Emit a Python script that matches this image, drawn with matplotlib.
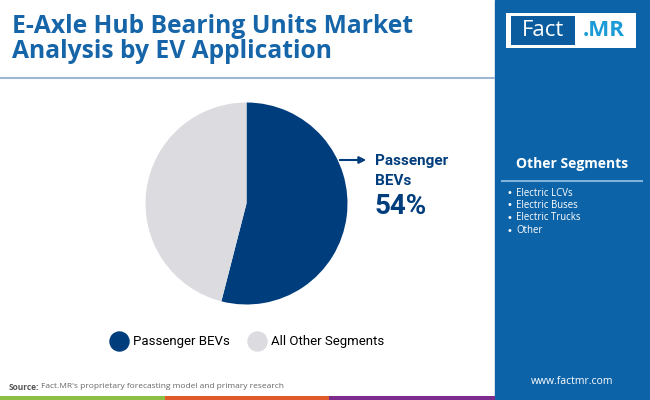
import matplotlib.pyplot as plt
from matplotlib.patches import Rectangle
from matplotlib.lines import Line2D

segments = ["Passenger BEVs", "All Other Segments"]
shares = [54, 46]
seg_colors = ["#003d7c", "#dcdbe0"]
other_items = ["Electric LCVs", "Electric Buses", "Electric Trucks", "Other"]

title_col = "#1565a8"
panel_col = "#0d63a8"

fig = plt.figure(figsize=(6.5, 4), dpi=100)

# background layer in pixel coordinates
bg = fig.add_axes([0, 0, 1, 1])
bg.set_xlim(0, 650)
bg.set_ylim(400, 0)
bg.axis("off")

bg.text(12, 33, "E-Axle Hub Bearing Units Market", fontsize=17.7, fontweight="bold",
        family="Open Sans", color=title_col, va="baseline")
bg.text(12, 58, "Analysis by EV Application", fontsize=17.7, fontweight="bold",
        family="Open Sans", color=title_col, va="baseline")
bg.plot([0, 494], [78, 78], color="#9db8d0", lw=1.5)

# right panel
bg.add_patch(Rectangle((495, 0), 155, 400, color=panel_col, zorder=1))
bg.add_patch(Rectangle((506, 13), 130, 35, facecolor="white", edgecolor="none", zorder=2))
bg.add_patch(Rectangle((511, 16), 64, 29, facecolor="#0a5c9e", edgecolor="none", zorder=3))
bg.text(543, 31, "Fact", fontsize=16, color="white", ha="center", va="center",
        family="Open Sans", zorder=4)
bg.text(604, 31, ".MR", fontsize=16, color="#1a9bd7", ha="center", va="center",
        fontweight="bold", family="Open Sans", zorder=4)

bg.text(572, 164, "Other Segments", fontsize=10, fontweight="bold", color="white",
        ha="center", va="center", family="Open Sans", zorder=4)
bg.plot([502, 642], [181, 181], color="#7fb2dc", lw=1.5, zorder=4)
for i, item in enumerate(other_items):
    y = 193 + i * 12.5
    bg.text(507, y, "\u2022", fontsize=7, color="white", ha="left", va="center", zorder=4)
    bg.text(516, y, item, fontsize=6.9, color="white", ha="left", va="center",
            family="Open Sans", zorder=4)
bg.text(572, 382, "www.factmr.com", fontsize=7.5, color="white", ha="center",
        va="center", family="Open Sans", zorder=4)

# source
bg.text(9, 387, "Source:", fontsize=6, fontweight="bold", color="#555555",
        va="center", family="Open Sans")
bg.text(41, 387, "Fact.MR's proprietary forecasting model and primary research",
        fontsize=6, color="#666666", va="center", family="Open Sans")

# bottom strip
bg.add_patch(Rectangle((0, 396), 165, 4, color="#8cbf45", lw=0))
bg.add_patch(Rectangle((165, 396), 164, 4, color="#e05a2b", lw=0))
bg.add_patch(Rectangle((329, 396), 166, 4, color="#7b2c8c", lw=0))

# pie
cx, cy, r = 246.5, 203.5, 101
ax = fig.add_axes([(cx - r) / 650, 1 - (cy + r) / 400, 2 * r / 650, 2 * r / 400])
ax.pie(shares, colors=seg_colors, startangle=90, counterclock=False, radius=1,
       wedgeprops=dict(linewidth=0))
ax.set_xlim(-1, 1)
ax.set_ylim(-1, 1)
ax.set_aspect("equal")
ax.axis("off")

# callout
bg.annotate("", xy=(369, 160), xytext=(337, 160),
            arrowprops=dict(arrowstyle="-|>", color=seg_colors[0], lw=1.5,
                            mutation_scale=10))
bg.text(375, 161, "Passenger", fontsize=11, fontweight="bold", color=seg_colors[0],
        family="Roboto", va="center")
bg.text(375, 181, "BEVs", fontsize=11, fontweight="bold", color=seg_colors[0],
        family="Roboto", va="center")
bg.text(374, 207, f"{shares[0]}%", fontsize=20, fontweight="bold", color=seg_colors[0],
        family="Roboto", va="center")

# legend
handles = [Line2D([], [], marker="o", ls="none", markersize=13.7, markerfacecolor=c,
                  markeredgecolor=c) for c in seg_colors]
bg.legend(handles, segments, loc="center", bbox_to_anchor=(247 / 650, 1 - 342 / 400),
          bbox_transform=fig.transFigure, ncol=2, frameon=False,
          prop=dict(family="Roboto", size=9.5), handletextpad=0.4, columnspacing=1.3,
          handlelength=1.4)

fig.savefig("out.png", dpi=100)
